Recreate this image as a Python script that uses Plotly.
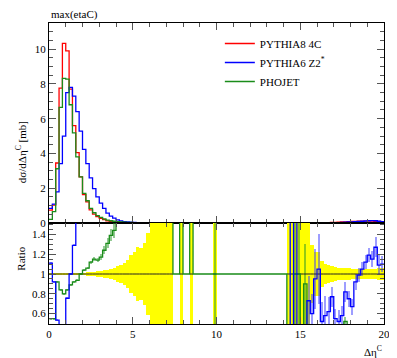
import plotly.graph_objects as go

# ---------------- data (bin width 0.2, 0..20) ----------------
bin_edges = [round(0.2 * i, 1) for i in range(101)]

pythia8_4c = ([0.74, 1.03, 3.45, 7.75, 10.33, 9.9, 7.7, 5.6, 4.05, 2.65,
               1.63, 1.21, 0.75, 0.51, 0.37, 0.27, 0.19, 0.13, 0.094, 0.07,
               0.05, 0.035, 0.025, 0.018, 0.012, 0.008, 0.005, 0.003, 0.002, 0.001]
              + [0.0] * 46
              + [0.002, 0.004, 0.006, 0.008, 0.01, 0.015, 0.02, 0.025, 0.03, 0.04,
                 0.05, 0.06, 0.07, 0.08, 0.085, 0.09, 0.1, 0.1, 0.11, 0.11,
                 0.11, 0.1, 0.09, 0.07])

pythia6_z2 = ([0.84, 1.08, 1.79, 3.41, 5.0, 7.5, 7.8, 7.3, 6.4, 5.28,
               4.23, 3.41, 2.59, 1.98, 1.5, 1.14, 0.84, 0.57, 0.4, 0.28,
               0.18, 0.12, 0.08, 0.06, 0.045, 0.035, 0.02, 0.015, 0.01, 0.008,
               0.006, 0.005, 0.004, 0.003, 0.002, 0.002, 0.001]
              + [0.0] * 39
              + [0.001, 0.003, 0.004, 0.006, 0.008, 0.008, 0.012, 0.018, 0.02, 0.022,
                 0.025, 0.035, 0.05, 0.065, 0.07, 0.075, 0.09, 0.1, 0.115, 0.13,
                 0.135, 0.13, 0.1, 0.075])

phojet = ([0.21, 0.65, 3.12, 6.65, 8.32, 8.27, 6.8, 5.18, 3.8, 2.65,
           1.7, 1.28, 0.84, 0.59, 0.42, 0.32, 0.24, 0.17, 0.13, 0.1,
           0.08, 0.06, 0.05, 0.04, 0.03, 0.025, 0.02, 0.015, 0.01, 0.008]
          + [0.0] * 70)

# ratio panel (reference = PYTHIA8 4C)
ref_rel_err = ([0.012, 0.01, 0.006, 0.005, 0.004, 0.004, 0.005, 0.006, 0.008, 0.01,
                0.013, 0.016, 0.02, 0.024, 0.028, 0.033, 0.038, 0.044, 0.05, 0.06,
                0.077, 0.094, 0.11, 0.14, 0.19, 0.22, 0.27, 0.26, 0.31, 0.41]
               + [0.6] * 7
               + [None, None, 0.6, None, None, 0.6, None, None, None, None, None, None, 0.6]
               + [None] * 21
               + [0.6] * 7
               + [0.29, 0.22, 0.22, 0.13, 0.1, 0.09, 0.08, 0.07, 0.065, 0.06, 0.06,
                  0.06, 0.055, 0.055, 0.05, 0.05, 0.05, 0.05, 0.05, 0.055, 0.06, 0.06])

phojet_ratio = ([0.55, 0.55, 0.92, 0.84, 0.80, 0.84, 0.89, 0.92, 0.935, 1.0,
                 1.04, 1.06, 1.12, 1.15, 1.14, 1.17, 1.24, 1.31, 1.39, 1.44]
                + [3.0] * 17
                + [1.0, 1.0, 3.0, 1.0, 1.0, 3.0] + [1.0] * 28
                + [0.0, 0.0, 1.0, 1.0, 0.0, 0.9] + [0.0] * 11 + [0.52] + [0.0] * 11)
phojet_ratio_err = ([0.01] * 10 + [0.01, 0.01, 0.015, 0.02, 0.02, 0.03, 0.04, 0.05, 0.06, 0.08]
                    + [0.0] * 29 + [0.6] + [0.0] * 23 + [0.6, 0.6, 0.0, 0.4]
                    + [0.0] * 11 + [0.05] + [0.0] * 11)

pythia6_ratio = ([1.11, 0.92, 0.535, 0.3, 0.45, 0.755, 1.0, 1.29]
                 + [3.0] * 63
                 + [3.0, 0.0, 3.0, 0.0, 0.0, 0.0]
                 + [0.73, 0.6, 0.95, 1.05, 0.52, 0.58, 0.62, 0.77, 0.55, 0.52, 0.58, 0.82,
                    0.75, 0.67, 0.92, 0.99, 1.05, 1.12, 1.19, 1.15, 1.27, 1.09, 1.1])
pythia6_ratio_err = ([0.01] * 8 + [0.0] * 41 + [0.0] * 28
                     + [0.25, 0.2, 0.3, 0.35, 0.2, 0.2, 0.15, 0.1, 0.1, 0.12, 0.1, 0.1,
                        0.08, 0.08, 0.08, 0.07, 0.07, 0.07, 0.07, 0.08, 0.1, 0.1, 0.08])

x_ticks = [0, 5, 10, 15, 20]
ratio_ticks = [0.6, 0.8, 1.0, 1.2, 1.4]
ratio_tick_text = ["0.6", "0.8", "1", "1.2", "1.4"]

RED = "#ff0000"
BLUE = "#0000ff"
GREEN = "#1a8c1a"
FONT = "Liberation Serif, DejaVu Serif, serif"

centers = [(bin_edges[i] + bin_edges[i + 1]) / 2 for i in range(len(bin_edges) - 1)]


def step(vals):
    return bin_edges, list(vals) + [vals[-1]]


fig = go.Figure()

# ---------- ratio panel ----------
yc = [centers[i] for i, e in enumerate(ref_rel_err) if e is not None]
ye = [e for e in ref_rel_err if e is not None]
fig.add_trace(go.Bar(x=yc, y=[2 * e for e in ye], base=[1 - e for e in ye], width=0.2,
                     marker=dict(color="#ffff00", line=dict(width=0)),
                     xaxis="x2", yaxis="y2", showlegend=False, hoverinfo="skip"))

# ratio MC error bands
for rv, re_, col in [(pythia6_ratio, pythia6_ratio_err, "rgba(60,60,255,0.5)"),
                     (phojet_ratio, phojet_ratio_err, "rgba(40,150,40,0.5)")]:
    bx = [centers[i] for i, e in enumerate(re_) if e > 0]
    bb = [rv[i] - e for i, e in enumerate(re_) if e > 0]
    bh = [2 * e for e in re_ if e > 0]
    fig.add_trace(go.Bar(x=bx, y=bh, base=bb, width=0.12,
                         marker=dict(color=col, line=dict(width=0)),
                         xaxis="x2", yaxis="y2", showlegend=False, hoverinfo="skip"))

# reference line at 1 where reference exists
rx, ry = [], []
for i, e in enumerate(ref_rel_err):
    if e is not None:
        rx += [bin_edges[i], bin_edges[i + 1], None]
        ry += [1, 1, None]
fig.add_trace(go.Scatter(x=rx, y=ry, mode="lines", line=dict(color="#222222", width=1),
                         xaxis="x2", yaxis="y2", showlegend=False, hoverinfo="skip"))

sx, sy = step(phojet_ratio)
fig.add_trace(go.Scatter(x=sx, y=sy, mode="lines", line=dict(color=GREEN, width=1.3, shape="hv"),
                         xaxis="x2", yaxis="y2", showlegend=False, hoverinfo="skip"))
sx, sy = step(pythia6_ratio)
fig.add_trace(go.Scatter(x=sx, y=sy, mode="lines", line=dict(color=BLUE, width=1.3, shape="hv"),
                         xaxis="x2", yaxis="y2", showlegend=False, hoverinfo="skip"))

# ---------- main panel ----------
for vals, col, name in [(pythia8_4c, RED, "PYTHIA8 4C"),
                        (pythia6_z2, BLUE, "PYTHIA6 Z2<sup>*</sup>"),
                        (phojet, GREEN, "PHOJET")]:
    sx, sy = step(vals)
    fig.add_trace(go.Scatter(x=sx, y=sy, mode="lines", name=name,
                             line=dict(color=col, width=1.3, shape="hv"),
                             xaxis="x", yaxis="y"))

split = 101 / 301
axis_common = dict(showline=True, linecolor="black", linewidth=1, mirror="allticks",
                   ticks="inside", tickcolor="#555555", showgrid=False, zeroline=False,
                   automargin=False)

# the page body keeps its default 8px margin, so the figure is sized to fit after it
fig.update_layout(
    width=389, height=350,
    margin=dict(l=41, r=13, t=15, b=34, autoexpand=False),
    paper_bgcolor="white", plot_bgcolor="white",
    font=dict(family=FONT, size=11, color="black"),
    barmode="overlay", bargap=0,
    xaxis=dict(domain=[0, 1], anchor="y", range=[0, 20], tickvals=x_ticks, showticklabels=False,
               ticklen=7, minor=dict(dtick=1, ticklen=4, ticks="inside", tickcolor="#555555"),
               **axis_common),
    yaxis=dict(domain=[split, 1], anchor="x", range=[0, 11.5], tickvals=[0, 2, 4, 6, 8, 10],
               ticklen=7, minor=dict(dtick=0.5, ticklen=4, ticks="inside", tickcolor="#555555"),
               tickfont=dict(family=FONT, size=11), **axis_common),
    xaxis2=dict(domain=[0, 1], anchor="y2", range=[0, 20], tickvals=x_ticks,
                ticklen=7, minor=dict(dtick=1, ticklen=4, ticks="inside", tickcolor="#555555"),
                tickfont=dict(family=FONT, size=11), **axis_common),
    yaxis2=dict(domain=[0, split], anchor="x2", range=[0.495, 1.515], tickvals=ratio_ticks,
                ticktext=ratio_tick_text, ticklen=7,
                minor=dict(dtick=0.05, ticklen=4, ticks="inside", tickcolor="#555555"),
                tickfont=dict(family=FONT, size=11), **axis_common),
    legend=dict(x=0.51, y=0.98, xanchor="left", yanchor="top", bgcolor="rgba(0,0,0,0)",
                font=dict(family=FONT, size=11), tracegroupgap=0, itemwidth=30),
    showlegend=True,
    annotations=[
        dict(text="max(etaC)", xref="paper", yref="paper", x=0, y=1, xanchor="left",
             yanchor="bottom", yshift=0, showarrow=False, font=dict(family=FONT, size=11)),
        dict(text="dσ/dΔη<sup>C</sup> [mb]", xref="paper", yref="paper", x=-0.108,
             y=0.68, textangle=-90, showarrow=False, font=dict(family=FONT, size=11)),
        dict(text="Ratio", xref="paper", yref="paper", x=-0.108, y=0.17,
             textangle=-90, showarrow=False, font=dict(family=FONT, size=11)),
        dict(text="Δη<sup>C</sup>", xref="paper", yref="paper", x=1, y=-0.06,
             xanchor="right", yanchor="top", showarrow=False, font=dict(family=FONT, size=11)),
    ],
)

fig.write_html("out.html")
